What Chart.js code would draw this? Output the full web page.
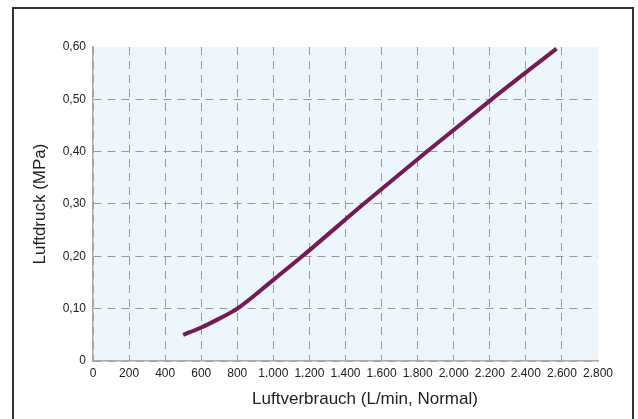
<!DOCTYPE html>
<html>
<head>
<meta charset="utf-8">
<script src="https://cdn.jsdelivr.net/npm/chart.js"></script>
<style>
  body { margin: 0; background: #fff; }
  #wrap { position: relative; width: 638px; height: 419px; overflow: hidden; }
  #frame { position: absolute; left: 12px; top: 7px; width: 618px; height: 430px;
           border: 2px solid #333; border-bottom: none; }
  #myChart { position: absolute; left: 0; top: 0; }
</style>
</head>
<body>
<div id="wrap">
  <div id="frame"></div>
  <canvas id="myChart" width="638" height="419"></canvas>
</div>
<script>
// air consumption (L/min) vs pressure (MPa)
const flow = [500, 600, 700, 800, 1000, 1160, 1500, 1850, 2210, 2570];
const pressure = [0.05, 0.064, 0.081, 0.10, 0.155, 0.20, 0.30, 0.40, 0.50, 0.597];
const xTicks = ["0", "200", "400", "600", "800", "1.000", "1.200", "1.400", "1.600",
  "1.800", "2.000", "2.200", "2.400", "2.600", "2.800"];
const yTicks = ["0", "0,10", "0,20", "0,30", "0,40", "0,50", "0,60"];
const xTitle = "Luftverbrauch (L/min, Normal)";
const yTitle = "Luftdruck (MPa)";

const font = "'Liberation Sans', Arial, sans-serif";

const plotBg = {
  id: "plotBg",
  beforeDraw(chart) {
    const { ctx, chartArea: a } = chart;
    ctx.save();
    ctx.fillStyle = "#eef6fd";
    ctx.fillRect(a.left, a.top, a.right - a.left, a.bottom - a.top);
    ctx.restore();
  },
  afterDraw(chart) {
    // x title sits a bit right of the plot centre in the original
    const ctx = chart.ctx;
    ctx.save();
    ctx.font = "17px " + font;
    ctx.fillStyle = "#222";
    ctx.textAlign = "center";
    ctx.textBaseline = "middle";
    ctx.fillText(xTitle, 365, 399);
    ctx.restore();
  }
};

const gridColor = (ctx) => (ctx.index === ctx.chart.scales[ctx.scale.id].ticks.length - 1 ? "rgba(0,0,0,0)" : "#9a9a9a");

new Chart(document.getElementById("myChart"), {
  type: "line",
  data: {
    datasets: [{
      data: flow.map((x, i) => ({ x: x, y: pressure[i] })),
      borderColor: "#761a55",
      borderWidth: 4,
      pointRadius: 0,
      cubicInterpolationMode: "monotone",
      fill: false
    }]
  },
  options: {
    responsive: false,
    animation: false,
    layout: { padding: { left: 0, top: 47, right: 40, bottom: 0 } },
    plugins: { legend: { display: false }, tooltip: { enabled: false } },
    scales: {
      x: {
        type: "linear",
        min: 0,
        max: 2800,
        afterFit: (s) => { s.height = 58; },
        afterBuildTicks: (s) => { s.ticks = xTicks.map((t, i) => ({ value: i * 200 })); },
        ticks: {
          autoSkip: false,
          maxRotation: 0,
          padding: 5,
          color: "#222",
          font: { family: font, size: 12 },
          callback: (v, i) => xTicks[i]
        },
        grid: { drawTicks: false, color: gridColor, lineWidth: 1 },
        border: { color: "#aaa", width: 1.5, dash: [8, 6] }
      },
      y: {
        min: 0,
        max: 0.6,
        afterFit: (s) => { s.width = 93; },
        afterBuildTicks: (s) => { s.ticks = yTicks.map((t, i) => ({ value: i * 0.1 })); },
        ticks: {
          padding: 7,
          color: "#222",
          font: { family: font, size: 12 },
          callback: (v, i) => yTicks[i]
        },
        grid: { drawTicks: false, color: gridColor, lineWidth: 1 },
        border: { color: "#aaa", width: 1.5, dash: [8, 6] },
        title: {
          display: true,
          text: yTitle,
          color: "#222",
          font: { family: font, size: 17 },
          padding: { top: 30, bottom: 0 }
        }
      }
    }
  },
  plugins: [plotBg]
});
</script>
</body>
</html>
